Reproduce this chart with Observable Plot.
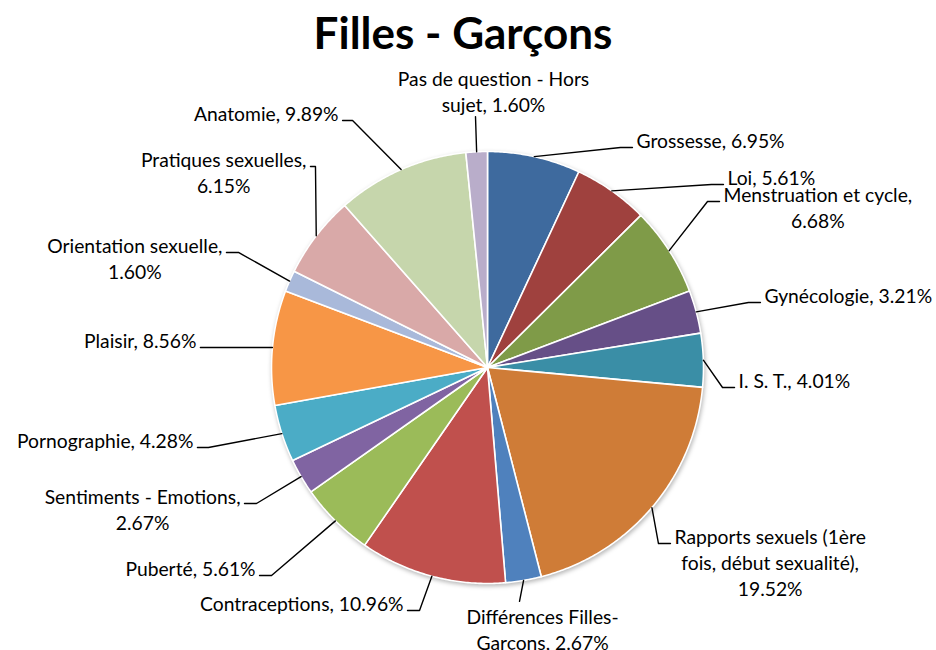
<!DOCTYPE html>
<html><head><meta charset="utf-8">
<script src="https://cdn.jsdelivr.net/npm/d3@7"></script>
<script src="https://cdn.jsdelivr.net/npm/@observablehq/plot@0.6"></script>
<style>
body{margin:0;background:#fff;}
#title{width:926px;height:59px;padding-top:3px;text-align:center;font-family:Lato,"Open Sans",sans-serif;font-weight:bold;font-size:44px;line-height:59px;color:#000;}
#chart svg{display:block;overflow:visible;}
</style></head><body>
<div id="title">Filles - Garçons</div>
<div id="chart"></div>
<script>
// ---- data ----
const categories = ["Grossesse","Loi","Menstruation et cycle","Gynécologie","I. S. T.",
  "Rapports sexuels (1ère fois, début sexualité)","Différences Filles-Garçons","Contraceptions",
  "Puberté","Sentiments - Emotions","Pornographie","Plaisir","Orientation sexuelle",
  "Pratiques sexuelles","Anatomie","Pas de question - Hors sujet"];
const shares = [6.95,5.61,6.68,3.21,4.01,19.52,2.67,10.96,5.61,2.67,4.28,8.56,1.60,6.15,9.89,1.60];

// ---- styles ----
const palette = ["#3E6A9E","#9F413E","#7F9B48","#664F87","#3A8EA6","#CF7C37","#4F81BD","#C0504D",
  "#9BBB59","#8064A2","#4BACC6","#F79646","#A9B9DA","#D9A9A8","#C6D6AC","#B9ADCA"];

// ---- label layout ----
const wrapChars  = [99,99,22,99,99,23,19,99,99,22,99,99,21,20,99,22];
const leaderEnd  = [[31.15,1.190],[50.75,1.339],[52.97,1.276],[76.02,1.245],[94.86,1.092],
  [135.83,1.136],[172.21,1.093],[195.63,1.168],[226.08,1.388],[239.51,1.241],[254.0,1.344],
  [274.16,1.277],[294.79,1.270],[319.45,1.225],[331.35,1.303],[357.26,1.163]];
const labelSide  = ["r","r","r","r","r","r","b","l","l","l","l","l","l","l","l","t"];
const hookLen    = [12,12,12,12,12,12,0,12,12,12,11,12,12,5,10,0];
const blockShift = [0,0,0,0,0,0,23,0,0,0,0,0,0,0,0,18];

const W = 936, H = 588, R = 216, CX = 487, CY = 305;
const FS = 19.3, LH = 26, GAP = 4;
const FONT = "Lato, 'Open Sans', sans-serif";

const total = d3.sum(shares);
const pt = (deg, r) => [r * Math.sin(deg * Math.PI / 180), r * Math.cos(deg * Math.PI / 180)];

// slices
const slicePts = [];
let cum = 0;
const mids = [];
shares.forEach((v, i) => {
  const a0 = cum / total * 360, a1 = (cum + v) / total * 360;
  cum += v;
  mids.push((a0 + a1) / 2);
  slicePts.push({k: i, x: 0, y: 0, c: palette[i]});
  const n = Math.max(2, Math.ceil((a1 - a0) / 0.5));
  for (let j = 0; j <= n; j++) {
    const [x, y] = pt(a0 + (a1 - a0) * j / n, 1);
    slicePts.push({k: i, x, y, c: palette[i]});
  }
  slicePts.push({k: i, x: 0, y: 0, c: palette[i]});
});

// wrap text
function wrap(str, max) {
  const toks = [];
  str.split(" ").forEach((w, wi) => {
    const parts = w.split(/(?<=-)(?=\S)/);
    parts.forEach((p, pi) => toks.push({t: p, sep: (pi === 0 && wi > 0) ? " " : ""}));
  });
  const lines = [];
  let line = toks[0].t;
  for (let i = 1; i < toks.length; i++) {
    const cand = line + toks[i].sep + toks[i].t;
    if (cand.length <= max) line = cand; else { lines.push(line); line = toks[i].t; }
  }
  lines.push(line);
  return lines;
}

const ctx = document.createElement("canvas").getContext("2d");
ctx.font = `${FS}px ${FONT}`;
const mw = s => ctx.measureText(s).width;

const leaderPts = [];
const textPts = [];
categories.forEach((cat, i) => {
  const lbl = `${cat}, ${shares[i].toFixed(2)}%`;
  const lines = wrap(lbl, wrapChars[i]);
  const [sx, sy] = pt(mids[i], 1);
  const [ex, ey] = pt(leaderEnd[i][0], leaderEnd[i][1]);
  const side = labelSide[i];
  const h = hookLen[i] / R;
  leaderPts.push({k: i, x: sx, y: sy}, {k: i, x: ex, y: ey});
  if (side === "r") leaderPts.push({k: i, x: ex + h, y: ey});
  if (side === "l") leaderPts.push({k: i, x: ex - h, y: ey});
  const w = d3.max(lines, mw);
  lines.forEach((t, j) => {
    let x, y, anchor;
    if (side === "r" || side === "l") {
      y = ey + (6 - LH * j) / R;
      const edge = side === "r" ? ex + (hookLen[i] + GAP) / R : ex - (hookLen[i] + GAP) / R;
      if (lines.length === 1) { x = edge; anchor = side === "r" ? "start" : "end"; }
      else { x = edge + (side === "r" ? 1 : -1) * (w / 2) / R; anchor = "middle"; }
    } else if (side === "b") {
      x = ex + blockShift[i] / R; anchor = "middle";
      y = ey - (16 + LH * j) / R;
    } else {
      x = ex + blockShift[i] / R; anchor = "middle";
      y = ey + (11 + LH * (lines.length - 1 - j)) / R;
    }
    textPts.push({x, y, t, anchor});
  });
});

const textMark = a => Plot.text(textPts.filter(d => d.anchor === a), {
  x: "x", y: "y", text: "t", textAnchor: a, fontSize: FS, fontFamily: FONT, fill: "#000"
});

const chart = Plot.plot({
  width: W, height: H, margin: 0,
  x: {domain: [-CX / R, (W - CX) / R], axis: null},
  y: {domain: [-(H - CY) / R, CY / R], axis: null},
  style: {background: "#fff", overflow: "visible"},
  marks: [
    Plot.line(slicePts, {x: "x", y: "y", z: "k", fill: "c", stroke: "#fff", strokeWidth: 1.6,
      strokeLinejoin: "round", curve: "linear"}),
    Plot.line(leaderPts, {x: "x", y: "y", z: "k", stroke: "#000", strokeWidth: 1.4, curve: "linear"}),
    textMark("start"), textMark("end"), textMark("middle")
  ]
});
const g = chart.querySelector('g[aria-label="line"]');
if (g) g.style.filter = "drop-shadow(1px 2px 2px rgba(0,0,0,0.28))";
document.getElementById("chart").appendChild(chart);
</script>
</body></html>
